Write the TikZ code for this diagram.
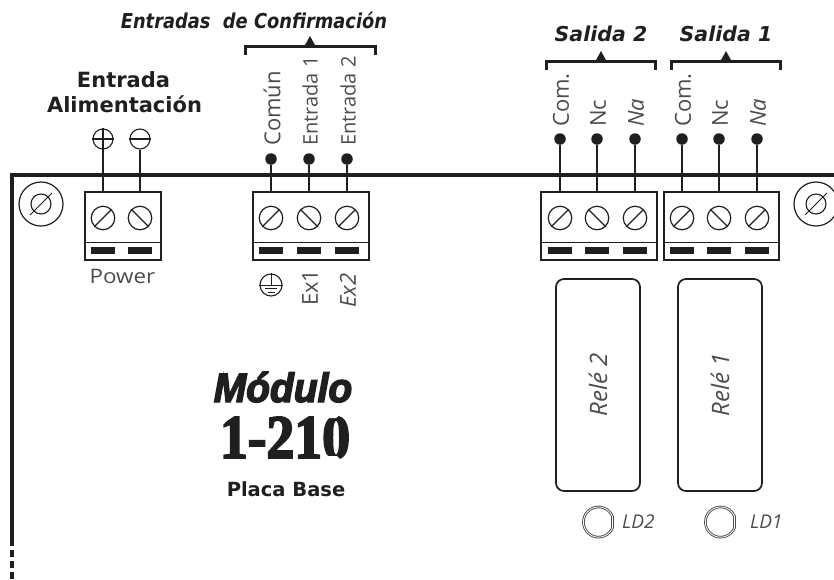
\documentclass[tikz,border=0pt]{standalone}
\usepackage{fontspec}
\newfontfamily\lightf[FakeStretch=1.12]{Open Sans}
\newfontfamily\lightv{Open Sans}
\newfontfamily\titlef{DejaVu Sans}
\newfontfamily\titlen[FakeStretch=.87]{DejaVu Sans}
\newfontfamily\modf[FakeStretch=.95,FakeBold=3.5]{Liberation Sans}
\newfontfamily\numf[FakeStretch=.9,FakeBold=3]{Liberation Serif}
\definecolor{ink}{gray}{0.12}
\definecolor{soft}{gray}{0.3}
\tikzset{
 frameline/.style={draw=ink,line width=3.2pt},
 blockline/.style={draw=ink,line width=1.7pt},
 wire/.style={draw=ink,line width=1.6pt},
 screwc/.style={draw=ink,line width=1.2pt,circle,minimum size=23.5pt,inner sep=0pt},
 pad/.style={fill=ink,minimum width=23.5pt,minimum height=7.5pt,inner sep=0pt},
 dot/.style={fill=ink,circle,minimum size=11.5pt,inner sep=0pt},
 brack/.style={draw=ink,line width=3pt},
 lab/.style={text=soft,font=\lightf\fontsize{19}{19}\selectfont,inner sep=0pt},
 vlab/.style={lab,rotate=90,anchor=west,font=\lightv\fontsize{22}{22}\selectfont},
 vlabn/.style={vlab,font=\lightv\fontsize{20}{20}\selectfont},
 vlabi/.style={vlab,font=\lightv\itshape\fontsize{22}{22}\selectfont},
 title/.style={text=ink,font=\titlef\bfseries\fontsize{21}{24}\selectfont,inner sep=0pt},
 otitle/.style={title,font=\titlef\bfseries\itshape\fontsize{20.5}{24}\selectfont},
 sym/.style={draw=ink,line width=1.1pt,circle,minimum size=20pt,inner sep=0pt},
 relay/.style={draw=ink,line width=1.7pt,rounded corners=8pt,minimum width=84pt,minimum height=212pt,inner sep=0pt},
 reltxt/.style={lab,rotate=90,font=\lightv\itshape\fontsize{24}{24}\selectfont},
 ledtxt/.style={lab,anchor=base west,font=\lightv\itshape\fontsize{19}{19}\selectfont},
}
\newcommand{\blockbase}[3]{%
 \node[blockline,anchor=north west,minimum width=#3pt-#2pt,minimum height=68pt,inner sep=0pt] (#1) at (#2,191) {};
 \draw[blockline] (#2,242.5) -- (#3,242.5);
}
\newcommand{\term}[3]{%
 \node[screwc] (#1s) at (#2,218) {};
 \draw[draw=ink,line width=1.2pt] (#1s.#3) -- (#1s.#3+180);
 \node[pad] (#1p) at (#2,250.5) {};
}
\begin{document}
\begin{tikzpicture}[x=1pt,y=-1pt]
\useasboundingbox (0,0) rectangle (834,579);
\coordinate (fa) at (834,175);
\coordinate (fb) at (12,175);
\coordinate (fc) at (12,539);
\coordinate (fd) at (12,579);
\draw[frameline] (fa) -- (fb) -- (fc);
\draw[draw=ink,line width=3.6pt,dash pattern=on 6.5pt off 4.5pt] (fc) -- (fd);
\foreach \n/\x in {ml/41,mr/816}{
 \node[draw=ink,line width=1.2pt,circle,minimum size=44pt,inner sep=0pt] (\n o) at (\x,204) {};
 \node[draw=ink,line width=1.1pt,circle,minimum size=20pt,inner sep=0pt] (\n i) at (\x,204) {};
 \draw[draw=ink,line width=.9pt] (\x-11,215) -- (\x+11,193);
}
\blockbase{pw}{84}{160}
\term{pa}{103}{45}
\term{pb}{140}{135}
\node[sym] (plus) at (103,139) {};
\draw[draw=ink,line width=1.1pt] (plus.west) -- (plus.east) (plus.north) -- (plus.south);
\node[sym] (minus) at (140,139) {};
\draw[draw=ink,line width=1.1pt] (minus.west) -- (minus.east);
\draw[wire] (plus.south) -- (pw.north -| plus);
\draw[wire] (minus.south) -- (pw.north -| minus);
\node[lab,anchor=base,font=\lightf\fontsize{20}{20}\selectfont] (power) at (122.5,283) {Power};
\node[title] (te) at (123.5,79.5) {Entrada};
\node[title] (ta) at (124.5,104) {Alimentación};
\blockbase{in}{252}{368}
\term{ia}{271}{45}
\term{ib}{309}{135}
\term{ic}{347}{45}
\foreach \n/\x in {ca/271,cb/309,cc/347}{
 \node[dot] (\n) at (\x,159) {};
 \draw[wire] (\n) -- (in.north -| \n);
}
\node[vlab] (l1) at (272,146) {Común};
\node[vlabn] (l2) at (310,146) {Entrada 1};
\node[vlabn] (l3) at (348,146) {Entrada 2};
\node[vlab] (ex1) at (310,306) {Ex1};
\node[vlabi] (ex2) at (348,308) {Ex2};
\node[sym,minimum size=22pt] (gnd) at (271,285) {};
\draw[draw=ink,line width=.9pt] (gnd.north) -- (271,285) (gnd.west) -- (gnd.east)
  (265,288.5) -- (277,288.5) (267.5,292) -- (274.5,292);
\draw[brack] (245,55) -- (245,46) -- (375,46) -- (375,55);
\fill[ink] (310,36) -- (315.5,46) -- (304.5,46) -- cycle;
\node[otitle,font=\titlen\bfseries\itshape\fontsize{20.5}{24}\selectfont] (tc) at (254,20.5) {Entradas\ \ de Confirmación};
\blockbase{sd}{540}{656}
\term{sa}{560}{45}
\term{sb}{597}{135}
\term{sc}{635}{45}
\blockbase{so}{663}{778}
\term{oa}{682}{45}
\term{ob}{719}{135}
\term{oc}{757}{45}
\foreach \n/\x in {da/560,db/597,dc/635}{
 \node[dot] (\n) at (\x,139) {};
 \draw[wire] (\n) -- (sd.north -| \n);
}
\foreach \n/\x in {ea/682,eb/719,ec/757}{
 \node[dot] (\n) at (\x,139) {};
 \draw[wire] (\n) -- (so.north -| \n);
}
\node[vlab] (v1) at (561,127) {Com.};
\node[vlab] (v2) at (598,127) {Nc};
\node[vlabi] (v3) at (636,127) {Na};
\node[vlab] (v4) at (683,127) {Com.};
\node[vlab] (v5) at (720,127) {Nc};
\node[vlabi] (v6) at (758,127) {Na};
\draw[brack] (546,70) -- (546,61) -- (655,61) -- (655,70);
\fill[ink] (601,51) -- (606.5,61) -- (595.5,61) -- cycle;
\draw[brack] (671,70) -- (671,61) -- (780,61) -- (780,70);
\fill[ink] (726,51) -- (731.5,61) -- (720.5,61) -- cycle;
\node[otitle] (s2) at (601,34) {Salida 2};
\node[otitle] (s1) at (726,34) {Salida 1};
\node[relay] (r2) at (598,385) {};
\node[relay] (r1) at (720,385) {};
\node[reltxt] (r2t) at (r2) {Relé 2};
\node[reltxt] (r1t) at (r1) {Relé 1};
\foreach \x in {598.5,720.5}{
 \draw[draw=soft,line width=2.6pt] (\x+14,522-5.6) arc[start angle=-22,end angle=-338,radius=15.1] -- cycle;
 \draw[draw=white,line width=.8pt] (\x+14,522-5.6) arc[start angle=-22,end angle=-338,radius=15.1] -- cycle;
}
\node[ledtxt] (ld2) at (622,528) {LD2};
\node[ledtxt] (ld1) at (750,528) {LD1};
\node[inner sep=0pt,text=ink,anchor=base,font=\modf\bfseries\itshape\fontsize{41}{41}\selectfont] (mod) at (283,402) {Módulo};
\node[inner sep=0pt,text=ink,anchor=base,font=\numf\bfseries\fontsize{62}{62}\selectfont] (num) at (285,458) {1-210};
\fill[white] (220,412) -- (234,412) -- (224,424) -- (220,424) -- cycle;
\fill[white] (292,412) -- (304,412) -- (295,424) -- (292,424) -- cycle;
\fill[white] (322,413) -- (342,413) -- (336,418) -- (327,418) -- cycle;
\fill[white] (322,461) -- (342,461) -- (337,456) -- (327,456) -- cycle;
\node[title,font=\titlef\bfseries\fontsize{19.5}{24}\selectfont] (pbt) at (286,489) {Placa Base};
\end{tikzpicture}
\end{document}
